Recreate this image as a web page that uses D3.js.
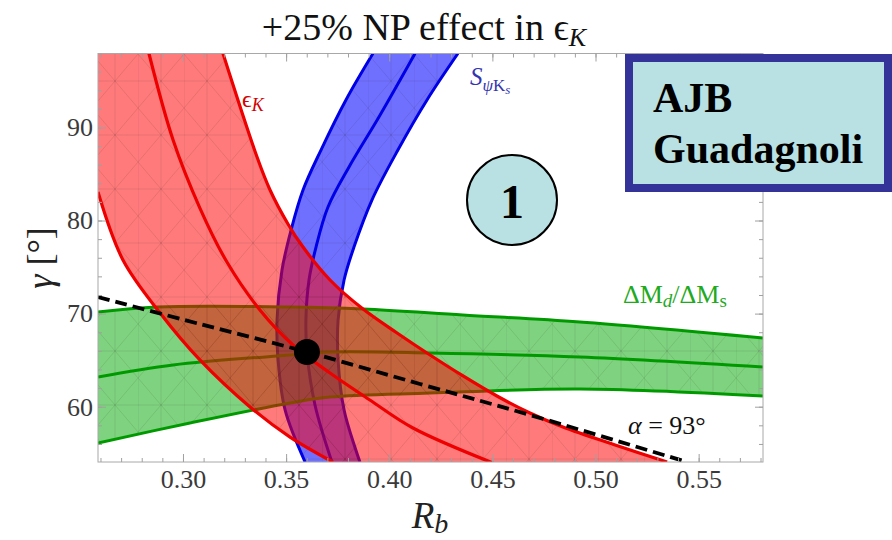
<!DOCTYPE html>
<html>
<head>
<meta charset="utf-8">
<script src="https://cdn.jsdelivr.net/npm/d3@7"></script>
<style>
  body { margin: 0; background: #fff; }
  text { font-family: "Liberation Serif", "Times New Roman", serif; }
</style>
</head>
<body>
<script>
// epsilon_K band (lower edge, centre, upper edge) : [Rb, gamma]
var epsLow = [[0.2588,83.06],[0.2709,75.76],[0.2889,70.06],[0.3082,65.02],[0.3325,59.97],[0.3519,56.74],[0.3727,54.06]];
var epsMid = [[0.2835,97.94],[0.2952,88.65],[0.3082,81.34],[0.3213,75.54],[0.3373,70.39],[0.3533,66.63],[0.3713,63.62],[0.3906,60.72],[0.4115,57.71],[0.4503,53.95]];
var epsHigh = [[0.3194,97.94],[0.3359,86.82],[0.3422,83.28],[0.3509,79.63],[0.3582,77.15],[0.3713,73.61],[0.3873,70.49],[0.4038,67.92],[0.4198,65.55],[0.4358,63.3],[0.4522,61.15],[0.4682,59.32],[0.4842,57.82],[0.5095,55.89],[0.5347,54.06]];

// S_psiKs band
var sLow = [[0.3921,97.94],[0.3790,92.95],[0.3669,87.57],[0.3582,83.28],[0.3524,78.98],[0.3480,74.68],[0.3456,69.31],[0.3461,65.02],[0.3495,59.65],[0.3592,54.06]];
var sMid = [[0.4125,97.94],[0.3950,91.12],[0.3805,85.75],[0.3703,81.45],[0.3645,77.15],[0.3611,73.61],[0.3596,69.31],[0.3601,65.88],[0.3640,60.18],[0.3722,54.06]];
var sHigh = [[0.4333,97.94],[0.4183,92.95],[0.4042,87.57],[0.3916,82.2],[0.3829,77.15],[0.3781,73.61],[0.3752,69.31],[0.3752,65.02],[0.3781,59.65],[0.3858,54.06]];

// Delta Md / Delta Ms band
var dmTop = [[0.2588,70.16],[0.2874,70.7],[0.3519,70.71],[0.3873,70.49],[0.4357,69.85],[0.4924,69.1],[0.5812,67.38]];
var dmMid = [[0.2588,63.19],[0.2952,64.48],[0.3519,65.55],[0.3713,65.87],[0.4197,65.77],[0.4924,65.34],[0.5812,64.27]];
var dmBot = [[0.2588,56.1],[0.3034,58.25],[0.3519,60.4],[0.3713,61.04],[0.4197,61.47],[0.4924,61.9],[0.5812,61.15]];

// alpha = 93 deg line and the fit point
var alphaLine = [[0.2588,71.78],[0.3082,68.88],[0.3601,65.88],[0.4149,62.44],[0.4682,59.11],[0.5443,54.06]];
var bestFit = [[0.3601,65.88]];

var xTicks = [0.30,0.35,0.40,0.45,0.50,0.55];
var yTicks = [60,70,80,90];

var W = 892, H = 540;
var svg = d3.select("body").append("svg").attr("width", W).attr("height", H);

var x = d3.scaleLinear().domain([0.2588, 0.5812]).range([98, 763]);
var y = d3.scaleLinear().domain([54.06, 97.94]).range([462, 53.5]);

var defs = svg.append("defs");
defs.append("clipPath").attr("id", "plotclip")
  .append("rect").attr("x", 98).attr("y", 53.5).attr("width", 665).attr("height", 408.5);

// faint triangle mesh like the original render
var pat = defs.append("pattern").attr("id", "mesh")
  .attr("patternUnits", "userSpaceOnUse").attr("width", 46).attr("height", 54);
pat.append("path")
  .attr("d", "M0,0V54M23,0V54M0,0L46,54M46,0L0,54M0,27H46")
  .attr("stroke", "rgba(0,0,0,0.11)").attr("stroke-width", 0.8).attr("fill", "none");

var line = d3.line().x(function(d){ return x(d[0]); }).y(function(d){ return y(d[1]); })
  .curve(d3.curveCatmullRom.alpha(0.5));

function band(a, b, extra) {
  var p = line(a) + line(b.slice().reverse()).replace(/^M/, "L");
  if (extra) extra.forEach(function(d){ p += "L" + x(d[0]) + "," + y(d[1]); });
  return p + "Z";
}

var plot = svg.append("g").attr("clip-path", "url(#plotclip)");

// blue band
var blueBand = band(sLow, sHigh);
plot.append("path").attr("d", blueBand).attr("fill", "rgba(0,0,255,0.56)");
plot.append("path").attr("d", blueBand).attr("fill", "url(#mesh)");
[sLow, sMid, sHigh].forEach(function(c){
  plot.append("path").attr("d", line(c)).attr("fill", "none")
    .attr("stroke", "#0000e6").attr("stroke-width", 3);
});

// green band
var greenBand = band(dmTop, dmBot);
plot.append("path").attr("d", greenBand).attr("fill", "rgba(0,165,0,0.5)");
plot.append("path").attr("d", greenBand).attr("fill", "url(#mesh)");
[dmTop, dmMid, dmBot].forEach(function(c){
  plot.append("path").attr("d", line(c)).attr("fill", "none")
    .attr("stroke", "#009a00").attr("stroke-width", 3);
});

// red band on top
var redBand = band(epsLow, epsHigh, [[0.2588, 97.94]]);
plot.append("path").attr("d", redBand).attr("fill", "rgba(255,0,0,0.52)");
plot.append("path").attr("d", redBand).attr("fill", "url(#mesh)");
[epsLow, epsMid, epsHigh].forEach(function(c){
  plot.append("path").attr("d", line(c)).attr("fill", "none")
    .attr("stroke", "#ee0000").attr("stroke-width", 3.2);
});

// alpha line
plot.append("path").attr("d", line(alphaLine)).attr("fill", "none")
  .attr("stroke", "#000").attr("stroke-width", 3.8).attr("stroke-dasharray", "12,6");

plot.selectAll(".fit").data(bestFit).enter().append("circle")
  .attr("cx", function(d){ return x(d[0]); }).attr("cy", function(d){ return y(d[1]); })
  .attr("r", 13).attr("fill", "#000");

// frame + ticks
svg.append("rect").attr("x", 98).attr("y", 53.5).attr("width", 665).attr("height", 408.5)
  .attr("fill", "none").attr("stroke", "#a8a8a8").attr("stroke-width", 1);

var xMinor = d3.range(0.26, 0.585, 0.01);
var yMinor = d3.range(56, 98, 2);

function styleAxis(g) {
  g.select(".domain").remove();
  g.selectAll("line").attr("stroke", "#a0a0a0");
  g.selectAll("text").attr("font-size", 26).attr("fill", "#3a3a3a");
}

svg.append("g").attr("transform", "translate(0,462)")
  .call(d3.axisBottom(x).tickValues(xTicks).tickSize(-8).tickPadding(8).tickFormat(d3.format(".2f"))).call(styleAxis);
svg.append("g").attr("transform", "translate(0,462)")
  .call(d3.axisBottom(x).tickValues(xMinor).tickSize(-4).tickFormat("")).call(styleAxis);
svg.append("g").attr("transform", "translate(0,53.5)")
  .call(d3.axisTop(x).tickValues(xTicks).tickSize(-8).tickFormat("")).call(styleAxis);
svg.append("g").attr("transform", "translate(0,53.5)")
  .call(d3.axisTop(x).tickValues(xMinor).tickSize(-4).tickFormat("")).call(styleAxis);
svg.append("g").attr("transform", "translate(98,0)")
  .call(d3.axisLeft(y).tickValues(yTicks).tickSize(-8).tickPadding(5)).call(styleAxis);
svg.append("g").attr("transform", "translate(98,0)")
  .call(d3.axisLeft(y).tickValues(yMinor).tickSize(-4).tickFormat("")).call(styleAxis);
svg.append("g").attr("transform", "translate(763,0)")
  .call(d3.axisRight(y).tickValues(yTicks).tickSize(-8).tickFormat("")).call(styleAxis);
svg.append("g").attr("transform", "translate(763,0)")
  .call(d3.axisRight(y).tickValues(yMinor).tickSize(-4).tickFormat("")).call(styleAxis);

// titles
var title = svg.append("text").attr("x", 424).attr("y", 40).attr("text-anchor", "middle")
  .attr("font-size", 38).attr("fill", "#111");
title.append("tspan").text("+25% NP effect in \u03F5");
title.append("tspan").attr("font-style", "italic").attr("font-size", 26).attr("dy", 6).text("K");

var xl = svg.append("text").attr("x", 430).attr("y", 528).attr("text-anchor", "middle")
  .attr("font-size", 37).attr("fill", "#222").attr("font-style", "italic");
xl.append("tspan").text("R");
xl.append("tspan").attr("font-size", 28).attr("dy", 5).text("b");

var yl = svg.append("text").attr("transform", "translate(52,258) rotate(-90)")
  .attr("text-anchor", "middle").attr("font-size", 36).attr("fill", "#222");
yl.append("tspan").attr("font-style", "italic").text("\u03B3");
yl.append("tspan").text(" [\u00B0]");

// band labels
var eL = svg.append("text").attr("x", 242).attr("y", 107).attr("fill", "#d40000").attr("font-size", 24);
eL.append("tspan").text("\u03F5");
eL.append("tspan").attr("font-style", "italic").attr("font-size", 18).attr("dy", 4).text("K");

var sL = svg.append("text").attr("x", 470).attr("y", 85).attr("fill", "#3535b0").attr("font-size", 25);
sL.append("tspan").attr("font-style", "italic").text("S");
sL.append("tspan").attr("font-size", 17).attr("dy", 6).attr("font-style", "italic").text("\u03C8");
sL.append("tspan").attr("font-size", 17).text("K");
sL.append("tspan").attr("font-size", 13).attr("dy", 3).attr("font-style", "italic").text("s");

var dL = svg.append("text").attr("x", 623).attr("y", 303).attr("fill", "#1faa1f").attr("font-size", 26);
dL.append("tspan").text("\u0394M");
dL.append("tspan").attr("font-size", 19).attr("dy", 4).attr("font-style", "italic").text("d");
dL.append("tspan").attr("dy", -4).text("/\u0394M");
dL.append("tspan").attr("font-size", 19).attr("dy", 4).text("s");

var aL = svg.append("text").attr("x", 628).attr("y", 434).attr("fill", "#111").attr("font-size", 26);
aL.append("tspan").attr("font-style", "italic").text("\u03B1");
aL.append("tspan").text(" = 93\u00B0");

// circled 1
svg.append("circle").attr("cx", 512).attr("cy", 200).attr("r", 45)
  .attr("fill", "#b9e0e3").attr("stroke", "#000").attr("stroke-width", 2);
svg.append("text").attr("x", 512).attr("y", 218).attr("text-anchor", "middle")
  .attr("font-size", 48).attr("font-weight", "bold").attr("fill", "#000").text("1");

// author box
svg.append("rect").attr("x", 629).attr("y", 58).attr("width", 259).attr("height", 130)
  .attr("fill", "#b9e0e3").attr("stroke", "#333399").attr("stroke-width", 8);
svg.append("text").attr("x", 653).attr("y", 112).attr("font-size", 42).attr("font-weight", "bold")
  .attr("fill", "#000").text("AJB");
svg.append("text").attr("x", 653).attr("y", 163).attr("font-size", 42).attr("font-weight", "bold")
  .attr("fill", "#000").text("Guadagnoli");
</script>
</body>
</html>
